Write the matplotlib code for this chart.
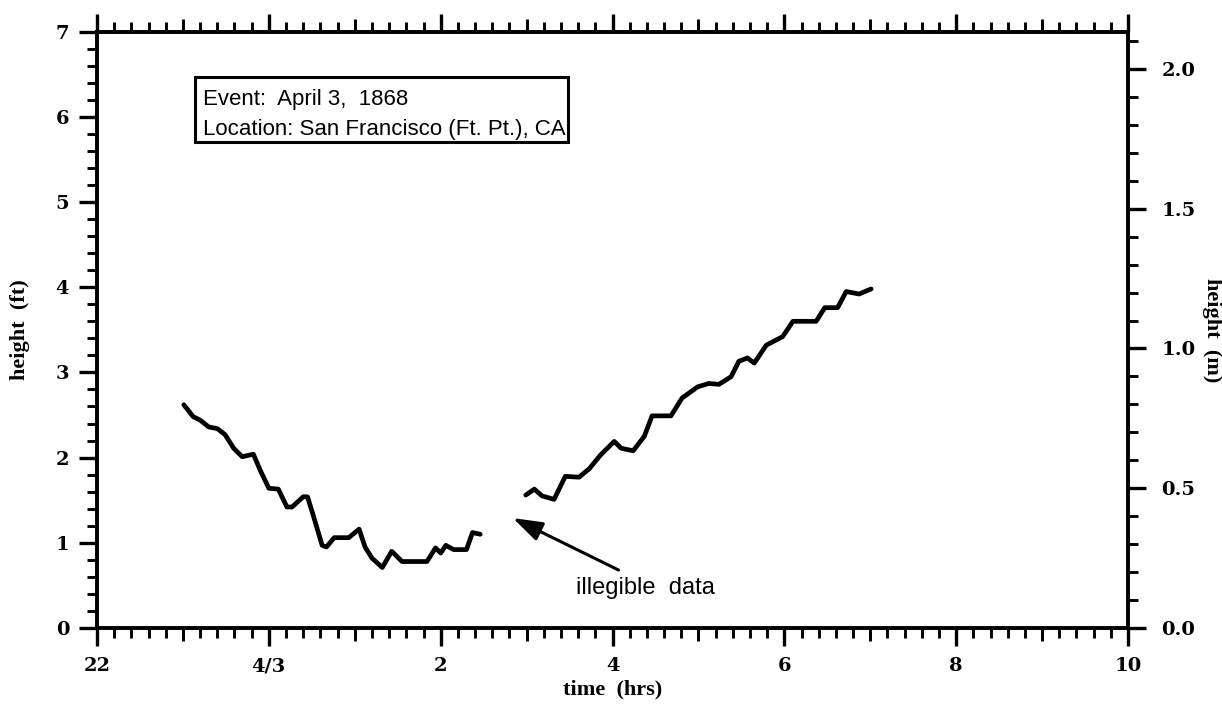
import matplotlib
matplotlib.use("Agg")
import matplotlib.pyplot as plt
from matplotlib.ticker import MultipleLocator, FixedLocator
from matplotlib.patches import Rectangle

# ---- data (time in hours, 22..34; height in ft) ----
seg1_t = [23.01, 23.12, 23.20, 23.30, 23.40, 23.49, 23.59, 23.69, 23.82, 23.90,
          24.00, 24.11, 24.21, 24.27, 24.40, 24.45, 24.52, 24.62, 24.67, 24.76,
          24.93, 25.05, 25.12, 25.20, 25.32, 25.43, 25.55, 25.84, 25.94, 26.00,
          26.06, 26.15, 26.30, 26.37, 26.46]
seg1_h = [2.62, 2.48, 2.44, 2.36, 2.34, 2.27, 2.11, 2.01, 2.04, 1.85,
          1.64, 1.63, 1.42, 1.42, 1.54, 1.54, 1.31, 0.97, 0.95, 1.06,
          1.06, 1.16, 0.95, 0.82, 0.71, 0.90, 0.78, 0.78, 0.94, 0.88,
          0.97, 0.92, 0.92, 1.12, 1.10]
seg2_t = [26.99, 27.09, 27.18, 27.32, 27.45, 27.61, 27.73, 27.86, 28.02, 28.10,
          28.24, 28.37, 28.46, 28.68, 28.81, 28.99, 29.12, 29.24, 29.38, 29.47,
          29.57, 29.65, 29.79, 29.98, 30.10, 30.37, 30.47, 30.62, 30.72, 30.87,
          31.01]
seg2_h = [1.56, 1.63, 1.55, 1.51, 1.78, 1.77, 1.87, 2.03, 2.19, 2.11,
          2.08, 2.25, 2.49, 2.49, 2.70, 2.83, 2.87, 2.86, 2.95, 3.13,
          3.17, 3.11, 3.32, 3.42, 3.60, 3.60, 3.76, 3.76, 3.95, 3.92,
          3.98]

xtick_pos = [22, 24, 26, 28, 30, 32, 34]
xtick_labels = ['22', '4/3', '2', '4', '6', '8', '10']
ytick_ft = [0, 1, 2, 3, 4, 5, 6, 7]
ytick_m = [0.0, 0.5, 1.0, 1.5, 2.0]
FT_PER_M = 1 / 0.3048

tickfont = ['DejaVu Serif']
serif = ['Liberation Serif', 'DejaVu Serif']
sans = ['Liberation Sans', 'DejaVu Sans']

fig = plt.figure(figsize=(12.22, 7.04), dpi=100)
ax = fig.add_axes([0.0794, 0.108, 0.9231 - 0.0794, 0.955 - 0.108])

for t, h in [(seg1_t, seg1_h), (seg2_t, seg2_h)]:
    ax.plot(t, h, color='black', lw=3.4, solid_joinstyle='round',
            solid_capstyle='round')

ax.set_xlim(22, 34)
ax.set_ylim(0, 7)

for s in ax.spines.values():
    s.set_linewidth(2.6)

ax.xaxis.set_major_locator(FixedLocator(xtick_pos))
ax.set_xticklabels(xtick_labels, fontfamily=tickfont, fontweight='bold', fontsize=14)
ax.xaxis.set_minor_locator(MultipleLocator(0.2))
ax.yaxis.set_major_locator(FixedLocator(ytick_ft))
ax.set_yticklabels([str(v) for v in ytick_ft], fontfamily=tickfont,
                   fontweight='bold', fontsize=14)
ax.yaxis.set_minor_locator(MultipleLocator(0.2))

ax.tick_params(axis='x', which='major', direction='out', length=13, width=2.4,
               top=True, bottom=True, pad=8)
ax.tick_params(axis='x', which='minor', direction='out', length=7, width=2.1,
               top=True, bottom=True)
ax.tick_params(axis='y', which='major', direction='out', length=13, width=2.4,
               left=True, right=False, pad=7)
ax.tick_params(axis='y', which='minor', direction='out', length=7, width=2.1,
               left=True, right=False)

# medium ticks at the odd hours (bottom and top)
for loc in ['bottom', 'top']:
    sec = ax.secondary_xaxis(loc)
    sec.xaxis.set_major_locator(FixedLocator([23, 25, 27, 29, 31, 33]))
    sec.xaxis.set_minor_locator(FixedLocator([]))
    sec.tick_params(axis='x', which='major', direction='out', length=9.5,
                    width=2.1, labelbottom=False, labeltop=False)
    for s in sec.spines.values():
        s.set_visible(False)

# right axis in metres
ax2 = ax.twinx()
ax2.set_ylim(0, 7 / FT_PER_M)
ax2.yaxis.set_major_locator(FixedLocator(ytick_m))
ax2.set_yticklabels([f'{v:.1f}' for v in ytick_m], fontfamily=tickfont,
                    fontweight='bold', fontsize=14)
ax2.yaxis.set_minor_locator(MultipleLocator(0.1))
ax2.tick_params(axis='y', which='major', direction='out', length=13, width=2.4, pad=11)
ax2.tick_params(axis='y', which='minor', direction='out', length=7, width=2.1)
for s in ax2.spines.values():
    s.set_linewidth(2.6)

ax.set_xlabel('time  (hrs)', fontfamily=serif, fontweight='bold', fontsize=16,
              va='center')
ax.xaxis.set_label_coords(0.5, -0.104)
ax.set_ylabel('height  (ft)', fontfamily=serif, fontweight='bold', fontsize=16,
              va='center')
ax.yaxis.set_label_coords(-0.0747, 0.5)
ax2.set_ylabel('height  (m)', fontfamily=serif, fontweight='bold', fontsize=16,
               rotation=-90, va='center')
ax2.yaxis.set_label_coords(1.0815, 0.5)

# event box
ax.add_patch(Rectangle((0.095, 0.815), 0.457 - 0.095, 0.924 - 0.815,
                       transform=ax.transAxes, fc='white', ec='black', lw=2.2,
                       zorder=3))
ax.text(0.103, 0.877, 'Event:  April 3,  1868', transform=ax.transAxes,
        ha='left', va='baseline', fontsize=16, fontfamily=sans, zorder=4)
ax.text(0.103, 0.827, 'Location: San Francisco (Ft. Pt.), CA',
        transform=ax.transAxes, ha='left', va='baseline', fontsize=16,
        fontfamily=sans, zorder=4)

ax.annotate('', xy=(26.84, 1.29), xytext=(28.07, 0.68),
            arrowprops=dict(arrowstyle='-|>,head_length=0.9,head_width=0.3',
                            color='black', lw=2.2, mutation_scale=20,
                            shrinkA=0, shrinkB=0))
ax.text(28.38, 0.47, 'illegible  data', ha='center', va='center', fontsize=17,
        fontfamily=sans)

fig.savefig('out.png', dpi=100)
